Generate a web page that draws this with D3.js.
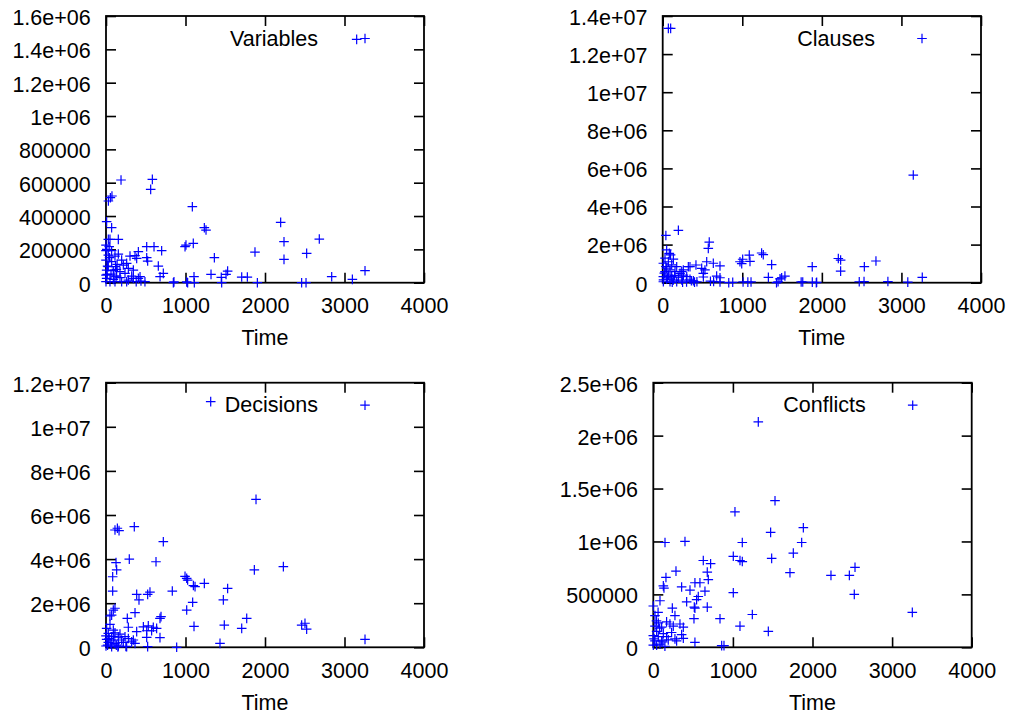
<!DOCTYPE html>
<html><head><meta charset="utf-8">
<script src="https://cdn.jsdelivr.net/npm/d3@7"></script>
<style>
body{margin:0;background:#fff}
text{font-family:"Liberation Sans",Arial,Helvetica,sans-serif;font-size:21.5px;fill:#000}
</style>
</head><body>
<svg id="c" width="1011" height="716"></svg>
<script>
const xTicks = [0, 1000, 2000, 3000, 4000];
const xTickLabels = ["0", "1000", "2000", "3000", "4000"];
const xLabel = "Time";
const titles = ["Variables", "Clauses", "Decisions", "Conflicts"];

const yTicksVariables = [0, 200000, 400000, 600000, 800000, 1000000, 1200000, 1400000, 1600000];
const yLabelsVariables = ["0", "200000", "400000", "600000", "800000", "1e+06", "1.2e+06", "1.4e+06", "1.6e+06"];
const yTicksClauses = [0, 2e6, 4e6, 6e6, 8e6, 1e7, 1.2e7, 1.4e7];
const yLabelsClauses = ["0", "2e+06", "4e+06", "6e+06", "8e+06", "1e+07", "1.2e+07", "1.4e+07"];
const yTicksDecisions = [0, 2e6, 4e6, 6e6, 8e6, 1e7, 1.2e7];
const yLabelsDecisions = ["0", "2e+06", "4e+06", "6e+06", "8e+06", "1e+07", "1.2e+07"];
const yTicksConflicts = [0, 500000, 1e6, 1.5e6, 2e6, 2.5e6];
const yLabelsConflicts = ["0", "500000", "1e+06", "1.5e+06", "2e+06", "2.5e+06"];

// [time, value]
const variables = [
[3153,1460000],[189,616000],[583,620000],[562,560000],[30,490000],[55,510000],[75,520000],
[1086,456000],[1237,330000],[1258,316000],[2197,362000],[2239,246000],[2239,140000],[2683,262000],
[2524,176000],[1874,184000],[1363,150000],[994,216000],[1006,226000],[1098,236000],[512,216000],
[604,216000],[700,192000],[512,150000],[524,130000],[302,160000],[407,186000],[386,146000],[365,162000],
[658,100000],[3258,72000],[2839,36000],[3099,20000],[1530,70000],[1510,50000],[1321,50000],[1450,32000],
[1707,34000],[1778,34000],[1107,36000],[721,56000],[680,36000],[847,0],[1027,0],[1111,0],[1455,0],
[1904,0],[2461,0],[2516,0],[855,5000],[1015,5000],[344,26000],[407,26000],[440,10000],[380,6000],[490,6000],
[8,366000],[71,330000],[29,260000],[50,260000],[155,260000],[0,226000],[40,216000],[0,192000],[71,192000],
[29,166000],[113,160000],[155,172000],[0,136000],[71,126000],[197,136000],[260,116000],[29,96000],
[120,96000],[218,106000],[8,76000],[92,72000],[176,66000],[281,86000],[0,46000],[63,52000],[134,40000],
[239,56000],[323,40000],[8,26000],[92,20000],[176,30000],[281,16000],[0,6000],[50,6000],[113,6000],
[197,6000],[260,6000],[20,100000],[45,150000],[10,200000],[100,40000],[140,110000],[15,50000],
[344,76000],[428,36000],[130,80000]
];
const clauses = [
[71,13350000],[100,13350000],[3149,5650000],[197,2750000],[40,2480000],[585,2130000],[573,1800000],
[1243,1560000],[1264,1470000],[2207,1270000],[2236,1190000],[2236,610000],[2680,1140000],[2534,840000],
[1879,840000],[1369,950000],[971,1100000],[1005,1230000],[1088,1450000],[1097,1120000],[993,1000000],
[720,880000],[636,1020000],[553,1100000],[531,670000],[510,490000],[418,930000],[343,840000],[259,670000],
[239,580000],[322,840000],[490,750000],[3262,280000],[1328,280000],[1536,350000],[1495,260000],[1474,200000],
[678,350000],[720,260000],[511,300000],[2830,60000],[3080,30000],[2470,50000],[2530,60000],[1930,0],
[1880,30000],[1740,40000],[1760,40000],[1450,50000],[1430,0],[1010,40000],[1070,30000],[1110,40000],
[880,20000],[830,0],[720,40000],[640,60000],[600,80000],[430,50000],[400,30000],[360,100000],[300,40000],
[250,20000],[1935,20000],
[50,1720000],[83,1540000],[99,1460000],[29,1290000],[134,1240000],[71,1100000],[8,1020000],[113,940000],
[176,840000],[50,760000],[92,670000],[29,580000],[155,580000],[218,490000],[71,400000],[8,320000],
[113,320000],[197,290000],[260,400000],[302,320000],[50,180000],[134,140000],[239,140000],[343,180000],
[8,50000],[92,50000],[176,50000],[385,100000],[20,500000],[60,250000],[150,380000],[40,850000],[10,150000],
[120,20000]
];
const decisions = [
[1317,11140000],[1887,6710000],[143,5400000],[164,5290000],[113,5320000],[356,5470000],[721,4790000],
[629,3880000],[293,4000000],[126,3840000],[134,3510000],[84,3200000],[84,2550000],[1866,3510000],
[2231,3660000],[994,3220000],[1015,3130000],[1027,3050000],[1099,2800000],[1120,2750000],[1237,2900000],
[834,2550000],[1530,2670000],[1476,2150000],[1090,2040000],[1015,1690000],[524,2400000],[553,2500000],
[386,2400000],[415,2150000],[365,1570000],[268,1310000],[92,1690000],[113,1770000],[50,1420000],
[71,1460000],[679,1310000],[692,1390000],[1770,1310000],[1107,950000],[1488,1010000],[1707,860000],
[2461,1010000],[2503,1090000],[2524,820000],[3258,360000],[1434,180000],[889,0],[524,30000],[679,440000],
[281,910000],[386,710000],[470,930000],[532,970000],[595,910000],[637,860000],[574,750000],[512,750000],
[344,330000],[365,180000],[512,450000],[250,40000],[150,20000],
[50,1040000],[8,860000],[92,780000],[29,630000],[113,660000],[176,600000],[0,520000],[71,480000],
[155,460000],[239,480000],[8,360000],[92,330000],[197,330000],[281,400000],[29,220000],[113,180000],
[218,220000],[323,250000],[0,60000],[71,30000],[155,60000],[260,30000],[40,400000],[60,150000],
[20,100000],[130,100000],[100,500000]
];
const conflicts = [
[1319,2130000],[1529,1385000],[1026,1280000],[1885,1130000],[1474,1086000],[1864,990000],[1118,990000],
[147,990000],[398,1000000],[1759,890000],[1487,840000],[1005,860000],[1089,820000],[1118,810000],
[628,820000],[720,790000],[678,710000],[691,640000],[1717,705000],[2232,680000],[2463,680000],
[2534,756000],[2525,500000],[3254,330000],[1005,516000],[285,720000],[159,660000],[126,580000],
[134,560000],[356,570000],[461,540000],[523,610000],[586,610000],[649,530000],[565,480000],[544,450000],
[419,430000],[515,380000],[523,370000],[678,380000],[84,440000],[239,370000],[272,300000],[511,270000],
[838,270000],[1244,310000],[1089,200000],[1445,150000],[335,220000],[377,190000],[356,120000],
[377,85000],[523,47000],[888,16000],[859,16000],
[0,390000],[21,300000],[63,230000],[167,240000],[21,200000],[105,190000],[209,220000],[251,200000],
[42,150000],[126,130000],[230,140000],[0,110000],[63,100000],[167,100000],[272,80000],[21,60000],
[105,60000],[188,70000],[293,60000],[0,20000],[42,20000],[84,30000],[146,10000],[40,250000],
[80,180000],[10,80000],[120,50000],[60,330000]
];

const seriesList = [variables, clauses, decisions, conflicts];
const yTickList = [yTicksVariables, yTicksClauses, yTicksDecisions, yTicksConflicts];
const yLabelList = [yLabelsVariables, yLabelsClauses, yLabelsDecisions, yLabelsConflicts];

const frames = [
  {l:106, r:424, t:16, b:282.7},
  {l:662.7, r:981, t:16, b:282.7},
  {l:106, r:424, t:382.7, b:647.3},
  {l:653.3, r:971.7, t:382.7, b:647.3}
];

const svg = d3.select("#c");
const plusPath = "M-4.8,0H4.8M0,-4.8V4.8";

frames.forEach((f, i) => {
  const yt = yTickList[i], yl = yLabelList[i];
  const x = d3.scaleLinear().domain([xTicks[0], xTicks[xTicks.length-1]]).range([f.l, f.r]);
  const y = d3.scaleLinear().domain([yt[0], yt[yt.length-1]]).range([f.b, f.t]);
  const g = svg.append("g");

  const styleAxis = sel => {
    sel.select(".domain").remove();
    sel.selectAll(".tick line").attr("stroke", "#000").attr("stroke-width", 1.6);
    sel.selectAll("text").attr("fill", "#000").style("font-size", "21.5px")
      .style("font-family", '"Liberation Sans",Arial,sans-serif');
  };

  g.append("g").attr("transform", `translate(${f.l},0)`)
    .call(d3.axisLeft(y).tickValues(yt).tickFormat((d, k) => yl[k]).tickSizeInner(-10).tickSizeOuter(0).tickPadding(15.3))
    .call(styleAxis).selectAll("text").attr("dy", "0.39em");
  g.append("g").attr("transform", `translate(${f.r},0)`)
    .call(d3.axisRight(y).tickValues(yt).tickFormat("").tickSizeInner(-10).tickSizeOuter(0))
    .call(styleAxis);
  g.append("g").attr("transform", `translate(0,${f.b})`)
    .call(d3.axisBottom(x).tickValues(xTicks).tickFormat((d, k) => xTickLabels[k]).tickSizeInner(-10).tickSizeOuter(0).tickPadding(15.3))
    .call(styleAxis);
  g.append("g").attr("transform", `translate(0,${f.t})`)
    .call(d3.axisTop(x).tickValues(xTicks).tickFormat("").tickSizeInner(-10).tickSizeOuter(0))
    .call(styleAxis);

  g.append("rect").attr("x", f.l).attr("y", f.t).attr("width", f.r - f.l).attr("height", f.b - f.t)
    .attr("fill", "none").attr("stroke", "#000").attr("stroke-width", 1.8);

  g.append("text").attr("x", (f.l + f.r) / 2).attr("y", f.b + 62.5)
    .attr("text-anchor", "middle").text(xLabel);

  // legend
  const sx = f.r - 59, sy = f.t + 22.5;
  g.append("text").attr("x", sx - 47).attr("y", f.t + 29.7).attr("text-anchor", "end").text(titles[i]);
  g.append("path").attr("d", plusPath).attr("transform", `translate(${sx},${sy})`)
    .attr("fill", "none").attr("stroke", "#0000ff").attr("stroke-width", 1.2);

  g.append("g").selectAll("path").data(seriesList[i]).join("path")
    .attr("d", plusPath)
    .attr("transform", d => `translate(${x(d[0])},${y(d[1])})`)
    .attr("fill", "none").attr("stroke", "#0000ff").attr("stroke-width", 1.2);
});
</script>
</body></html>
